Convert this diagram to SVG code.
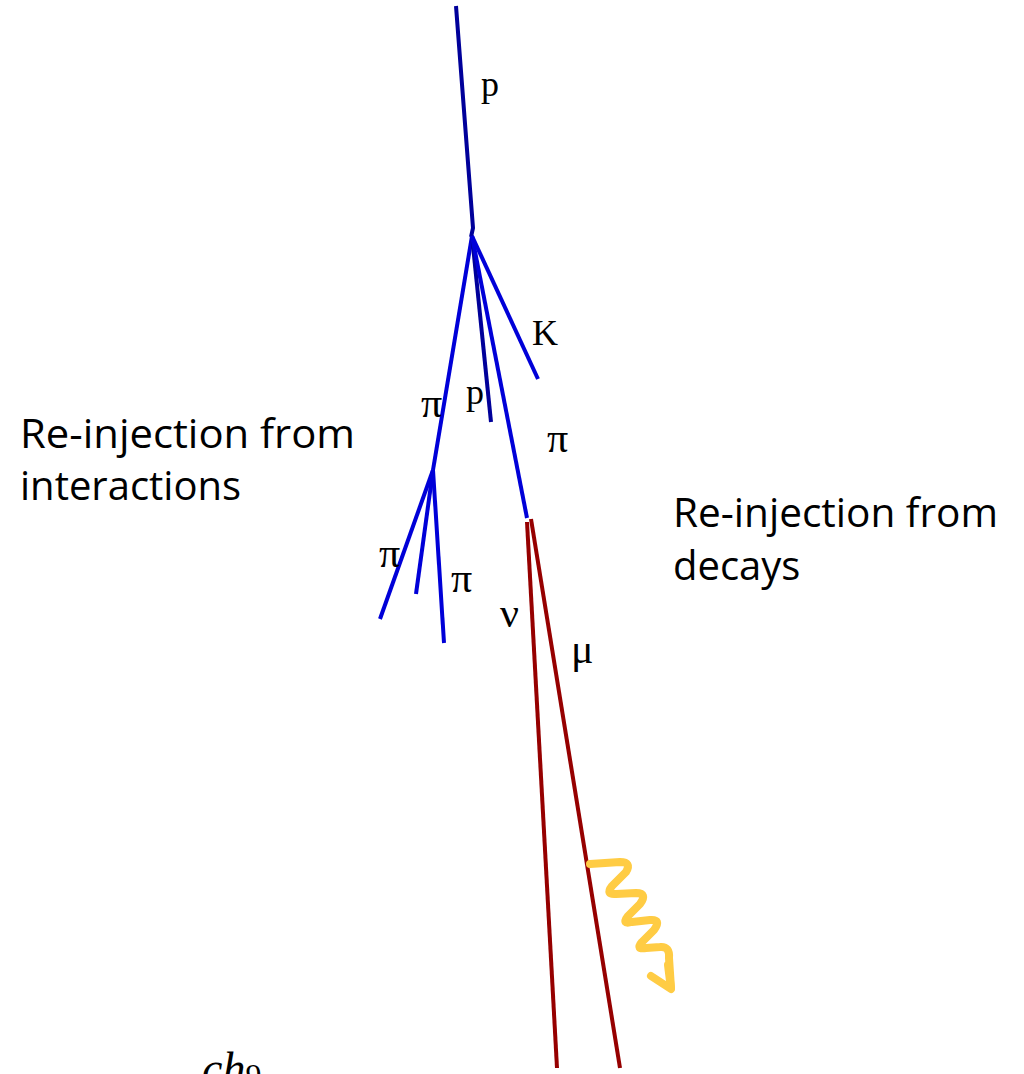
<svg xmlns="http://www.w3.org/2000/svg" width="1024" height="1074" viewBox="0 0 1024 1074">
<style>
.trk{fill:none;stroke-width:4;stroke-linecap:butt;stroke-linejoin:round}
.prot{stroke:#00009A}
.pion{stroke:#0000D8}
.lep{stroke:#960000}
.lbl{font-family:"Liberation Serif","Times New Roman",serif;font-size:36px;fill:#000}
.grk{font-family:"Liberation Serif","Times New Roman",serif;font-size:42px;fill:#000}
.cap{font-family:"Open Sans","Liberation Sans",Arial,sans-serif;font-size:40px;fill:#000}
.gam{fill:none;stroke:#FFCC44;stroke-width:8;stroke-linecap:round;stroke-linejoin:round}
</style>
<rect width="1024" height="1074" fill="#fff"/>
<g id="connectors">
  <path class="trk prot" d="M456 6 L473 228 L471 237"/>
  <path class="trk pion" d="M472 236 L433 470"/>
  <path class="trk prot" d="M472 236 L491 422"/>
  <path class="trk pion" d="M472 236 L527 518"/>
  <path class="trk pion" d="M472 236 L538 379"/>
  <path class="trk pion" d="M433 470 L380 619"/>
  <path class="trk pion" d="M433 470 L416 594"/>
  <path class="trk pion" d="M433 470 L444 643"/>
  <path class="trk lep" d="M527 522 L557 1068"/>
  <path class="trk lep" d="M531 519 L620 1068"/>
  <path class="gam" d="M590 864 L620 862 Q632 862 626 872 L612 886 Q605 895 616 894 L636 893 Q648 893 640 904 L628 916 Q621 925 632 922 L650 920 Q662 919 654 930 L642 942 Q635 950 646 948 L660 947 Q670 946 669 958 L671 988"/>
  <path class="gam" d="M651 976 L671 989 L668 965"/>
</g>
<g id="label-p-top"><text class="lbl" x="481" y="96">p</text></g>
<g id="label-K"><text class="lbl" x="532" y="345">K</text></g>
<g id="label-pi-1"><text class="grk" x="421" y="417">π</text></g>
<g id="label-p-mid"><text class="lbl" x="466" y="404">p</text></g>
<g id="label-pi-2"><text class="grk" x="547" y="452">π</text></g>
<g id="label-pi-3"><text class="grk" x="379" y="567">π</text></g>
<g id="label-pi-4"><text class="grk" x="451" y="592">π</text></g>
<g id="label-nu"><text class="grk" x="500" y="627">ν</text></g>
<g id="label-mu"><text class="grk" x="571" y="663">μ</text></g>
<g id="caption-interactions">
  <text class="cap" x="20" y="448" textLength="335" lengthAdjust="spacingAndGlyphs">Re-injection from</text>
  <text class="cap" x="20" y="500">interactions</text>
</g>
<g id="caption-decays">
  <text class="cap" x="673" y="527" textLength="325" lengthAdjust="spacingAndGlyphs">Re-injection from</text>
  <text class="cap" x="673" y="580">decays</text>
</g>
<g id="bottom-text">
  <text x="202" y="1084" font-family="Liberation Serif,serif" font-style="italic" font-size="46">ch<tspan font-size="32" font-style="normal" dy="2">9</tspan></text>
</g>
</svg>
